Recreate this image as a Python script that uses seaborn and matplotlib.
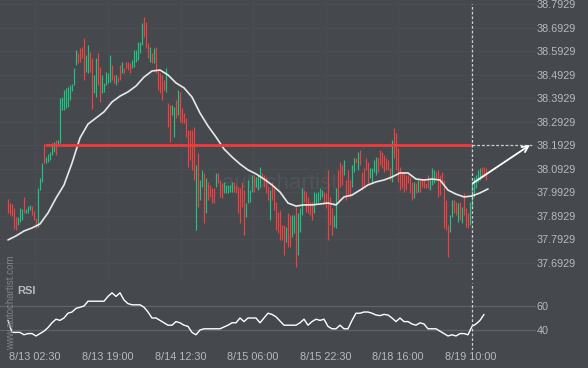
import numpy as np
import pandas as pd
import matplotlib
matplotlib.use("Agg")
import matplotlib.pyplot as plt
import seaborn as sns

# ---------------- data ----------------
opens = [37.963, 37.946, 37.942, 37.925, 37.887, 37.853, 37.865, 37.874, 37.972, 37.904,
         37.904, 37.916, 37.933, 37.912, 37.882, 37.844, 38.001, 38.036, 38.197, 38.116,
         38.121, 38.129, 38.150, 38.163, 38.214, 38.193, 38.201, 38.342, 38.342, 38.350,
         38.355, 38.384, 38.423, 38.448, 38.533, 38.584, 38.606, 38.610, 38.648, 38.504,
         38.499, 38.589, 38.563, 38.414, 38.397, 38.584, 38.525, 38.414, 38.419, 38.448,
         38.457, 38.461, 38.533, 38.491, 38.448, 38.482, 38.533, 38.499, 38.521, 38.546,
         38.546, 38.542, 38.521, 38.525, 38.546, 38.555, 38.584, 38.619, 38.738, 38.716,
         38.627, 38.546, 38.584, 38.542, 38.610, 38.512, 38.499, 38.491, 38.470, 38.419,
         38.372, 38.363, 38.321, 38.227, 38.384, 38.321, 38.419, 38.350, 38.329, 38.308,
         38.257, 38.257, 38.257, 38.270, 37.831, 38.159, 37.959, 38.014, 38.074, 37.904,
         38.036, 38.023, 38.010, 38.010, 38.014, 38.074, 38.044, 38.031, 37.989, 37.989,
         37.989, 37.993, 37.993, 38.036, 38.023, 38.014, 38.010, 38.036, 38.001, 37.887,
         37.946, 37.950, 37.994, 38.065, 38.014, 38.001, 38.014, 38.074, 38.065, 38.057,
         38.014, 37.874, 38.036, 38.010, 37.950, 37.908, 37.916, 37.853, 37.853, 37.780,
         37.904, 37.895, 37.801, 37.819, 37.929, 37.725, 37.823, 37.895, 38.001, 37.993,
         37.972, 37.950, 37.950, 37.904, 37.946, 37.950, 37.959, 37.972, 37.993, 37.989,
         38.087, 37.972, 37.925, 37.844, 37.840, 38.087, 38.121, 38.108, 38.065, 38.044,
         38.087, 38.044, 38.014, 38.078, 38.138, 38.087, 38.172, 38.078, 38.095, 38.138,
         38.121, 38.053, 38.031, 38.078, 38.065, 38.138, 38.172, 38.163, 38.150, 38.138,
         38.129, 38.095, 38.036, 38.265, 38.244, 38.180, 38.099, 38.078, 38.074, 38.065,
         38.065, 38.057, 38.036, 37.967, 38.031, 37.993, 38.044, 38.044, 38.044, 38.031,
         38.065, 38.001, 38.023, 38.031, 38.078, 38.087, 38.065, 38.078, 38.044, 37.959,
         37.853, 37.823, 37.887, 37.959, 37.950, 37.865, 37.950, 37.861, 37.989, 37.925,
         37.904, 37.853, 37.929, 37.972, 38.010, 38.036, 38.044, 38.099, 38.099, 38.095]

closes = [37.904, 37.895, 37.891, 37.836, 37.831, 37.887, 37.925, 37.921, 37.904, 37.921,
          37.933, 37.938, 37.895, 37.874, 37.840, 38.010, 38.053, 38.116, 38.116, 38.142,
          38.155, 38.163, 38.201, 38.206, 38.150, 38.214, 38.393, 38.397, 38.427, 38.436,
          38.440, 38.448, 38.453, 38.521, 38.597, 38.542, 38.546, 38.563, 38.470, 38.576,
          38.619, 38.504, 38.346, 38.491, 38.563, 38.448, 38.376, 38.491, 38.457, 38.504,
          38.499, 38.576, 38.470, 38.457, 38.491, 38.461, 38.470, 38.546, 38.499, 38.521,
          38.512, 38.499, 38.555, 38.597, 38.597, 38.631, 38.631, 38.712, 38.653, 38.606,
          38.563, 38.610, 38.542, 38.606, 38.499, 38.427, 38.414, 38.384, 38.427, 38.521,
          38.270, 38.206, 38.363, 38.355, 38.308, 38.427, 38.291, 38.287, 38.287, 38.227,
          38.099, 38.129, 38.087, 38.044, 38.108, 37.929, 38.044, 38.087, 37.861, 38.053,
          37.959, 37.972, 37.946, 37.946, 38.074, 38.031, 37.972, 37.967, 38.036, 38.023,
          38.023, 38.023, 38.036, 37.993, 37.989, 37.904, 37.861, 37.929, 37.810, 37.946,
          38.044, 38.001, 38.065, 37.993, 38.057, 38.065, 38.099, 38.053, 38.014, 37.989,
          37.959, 38.001, 37.959, 37.916, 37.831, 37.819, 37.789, 37.789, 37.725, 37.844,
          37.759, 37.759, 37.895, 37.895, 37.674, 37.904, 37.925, 38.010, 37.950, 37.908,
          37.904, 37.895, 37.874, 37.993, 37.989, 37.993, 38.010, 38.001, 37.946, 37.925,
          37.789, 37.853, 37.810, 37.895, 38.010, 37.959, 38.014, 38.023, 38.129, 37.959,
          37.980, 37.972, 38.108, 38.138, 38.116, 38.163, 38.108, 38.001, 38.014, 38.087,
          38.031, 38.095, 38.095, 38.129, 38.142, 38.078, 38.108, 38.095, 38.078, 38.087,
          38.087, 38.044, 38.214, 38.138, 38.087, 38.036, 38.001, 38.010, 37.993, 38.001,
          38.031, 37.989, 37.959, 38.036, 37.989, 38.044, 37.993, 38.014, 38.010, 38.010,
          38.010, 38.044, 38.095, 38.087, 38.053, 37.972, 37.980, 38.031, 37.840, 37.831,
          37.716, 37.895, 37.959, 37.904, 37.895, 37.946, 37.874, 37.929, 37.895, 37.844,
          37.840, 37.950, 38.031, 38.057, 38.065, 38.087, 38.095, 38.053, 38.057, 38.044]

# moving average, sampled every 4 candles
ma_values = [37.789, 37.806, 37.827, 37.840, 37.857, 37.904, 37.967, 38.023, 38.116, 38.223,
             38.282, 38.308, 38.334, 38.376, 38.401, 38.419, 38.444, 38.482, 38.508, 38.512,
             38.491, 38.457, 38.436, 38.397, 38.329, 38.274, 38.227, 38.176, 38.142, 38.112,
             38.087, 38.070, 38.048, 38.023, 37.993, 37.946, 37.933, 37.938, 37.938, 37.942,
             37.946, 37.938, 37.972, 37.980, 38.001, 38.023, 38.036, 38.044, 38.057, 38.074,
             38.074, 38.048, 38.044, 38.048, 38.044, 38.001, 37.984, 37.972, 37.976, 37.989,
             38.006]

# RSI, sampled every 2 candles
rsi_values = [48, 38, 38, 38, 36, 37, 37, 35, 37, 39,
              42, 46, 49, 48, 50, 54, 55, 58, 59, 60,
              64, 64, 64, 64, 64, 68, 71, 68, 71, 65,
              62, 61, 61, 61, 59, 55, 50, 50, 48, 46,
              44, 44, 47, 46, 44, 43, 38, 36, 40, 41,
              41, 41, 41, 41, 42.5, 44, 46, 46, 50, 47,
              50, 50, 50, 46, 50, 54, 53, 51, 47.5, 44,
              44, 44, 44, 46, 49, 44, 47, 49, 48, 49,
              43, 41, 41, 44, 41, 41, 48, 54, 54, 55,
              55, 54, 52.5, 52, 53, 52.5, 50, 47, 50, 47,
              47, 45, 44, 46, 45, 41, 41, 41, 39, 37,
              35, 36, 35, 37, 37, 36, 43, 45, 48, 53]

price_ticks = [38.7929, 38.6929, 38.5929, 38.4929, 38.3929, 38.2929, 38.1929,
               38.0929, 37.9929, 37.8929, 37.7929, 37.6929]
rsi_ticks = [40, 60]
time_labels = ["8/13 02:30", "8/13 19:00", "8/14 12:30", "8/15 06:00",
               "8/15 22:30", "8/18 16:00", "8/19 10:00"]
time_label_candles = [13.5, 50, 86.5, 122.5, 159, 195, 231.5]

level = 38.1929          # resistance level
level_start = 18.5       # candle where the level begins
breakout = 232           # candle of the breakout / current time
target = 261             # candle where the forecast arrow reaches the level

# ---------------- styling ----------------
BG = "#45494e"
GRID = "#4a4e53"
TXT = "#b6b9bd"
GREEN = "#1fc483"
RED = "#f2403e"

sns.set_style("dark", rc={"axes.facecolor": BG, "figure.facecolor": BG})
plt.rcParams["font.family"] = ["Liberation Sans", "DejaVu Sans"]

df = pd.DataFrame({"open": opens, "close": closes})
df["i"] = np.arange(len(df))
df["high"] = df[["open", "close"]].max(axis=1)
df["low"] = df[["open", "close"]].min(axis=1)
df["up"] = df["close"] >= df["open"]

ma_df = pd.DataFrame({"i": np.arange(len(ma_values)) * 4, "ma": ma_values})
rsi_df = pd.DataFrame({"i": np.arange(len(rsi_values)) * 2, "rsi": rsi_values})

W, H = 588, 368
fig = plt.figure(figsize=(W / 100, H / 100), dpi=100)
ax = fig.add_axes([0, 1 - 280 / H, 1, 280 / H])
ax2 = fig.add_axes([0, 18 / H, 1, 67 / H])

XL = (-4, 290)
for a in (ax, ax2):
    a.set_facecolor(BG)
    a.set_xlim(*XL)
    for s in a.spines.values():
        s.set_visible(False)

ax.set_ylim(37.6185, 38.81)
ax2.set_ylim(23.3, 79.2)

# faint grid
for t in time_label_candles:
    ax.axvline(t, color=GRID, lw=0.8, zorder=0)
for p in price_ticks:
    ax.axhline(p, xmax=535 / W, color=GRID, lw=0.8, zorder=0)

# centre watermark
ax.text(0.475, 0.345, "autochartist", transform=ax.transAxes, fontsize=16,
        color="#505459", ha="center", va="center", zorder=0.5)

# candles
up = df[df["up"]]
dn = df[~df["up"]]
ax.vlines(up["i"], up["low"], up["high"], color=GREEN, lw=0.85, zorder=2)
ax.vlines(dn["i"], dn["low"], dn["high"], color=RED, lw=0.85, zorder=2)

# moving average
sns.lineplot(data=ma_df, x="i", y="ma", ax=ax, color="#e8e8e8", lw=1.2, zorder=3)

# resistance level
ax.hlines(level, level_start, breakout, color="#f23a3a", lw=2.0, zorder=4)
ax.hlines(level, breakout, target + 1, color="#cfcfcf", lw=0.9,
          linestyles=(0, (2.2, 1.6)), zorder=4)

# current time line
ax.axvline(breakout, ymax=1 - 4 / 280, color="#cfcfcf", lw=0.9,
           linestyle=(0, (2.2, 1.6)), zorder=4)
ax2.axvline(breakout, color="#cfcfcf", lw=0.9, linestyle=(0, (2.2, 1.6)), zorder=4)

# forecast arrow
ax.annotate("", xy=(target, level), xytext=(breakout + 0.5, df["close"][breakout]),
            arrowprops=dict(arrowstyle="->", color="white", lw=1.3,
                            mutation_scale=11, shrinkA=0, shrinkB=0), zorder=5)

# price axis labels
ax.yaxis.tick_right()
ax.set_yticks(price_ticks)
ax.set_yticklabels([f"{p:.4f}" for p in price_ticks])
ax.tick_params(axis="y", length=0, pad=-37, labelsize=7.8, labelcolor=TXT)
ax.set_xticks([])
ax.set_xlabel("")
ax.set_ylabel("")

# RSI panel
for r in rsi_ticks:
    ax2.axhline(r, xmax=535 / W, color="#5f6368", lw=0.9, zorder=1)
sns.lineplot(data=rsi_df, x="i", y="rsi", ax=ax2, color="white", lw=1.0, zorder=3)
ax2.yaxis.tick_right()
ax2.set_yticks(rsi_ticks)
ax2.set_yticklabels([str(r) for r in rsi_ticks])
ax2.tick_params(axis="y", length=0, pad=-37, labelsize=7.8, labelcolor=TXT)
ax2.set_xticks(time_label_candles)
ax2.set_xticklabels(time_labels)
ax2.tick_params(axis="x", length=0, pad=1.5, labelsize=7.8, labelcolor=TXT)
ax2.set_xlabel("")
ax2.set_ylabel("")
ax2.grid(False)
ax.grid(False)

fig.text(17 / W, 1 - 291 / H, "RSI", fontsize=8, fontweight="bold",
         color="#b9bcc0", ha="left", va="center")
fig.text(11 / W, 18 / H, "www.autochartist.com", fontsize=7, rotation=90,
         color="#7f8287", ha="center", va="bottom")

fig.savefig("out.png", dpi=100, facecolor=BG)
